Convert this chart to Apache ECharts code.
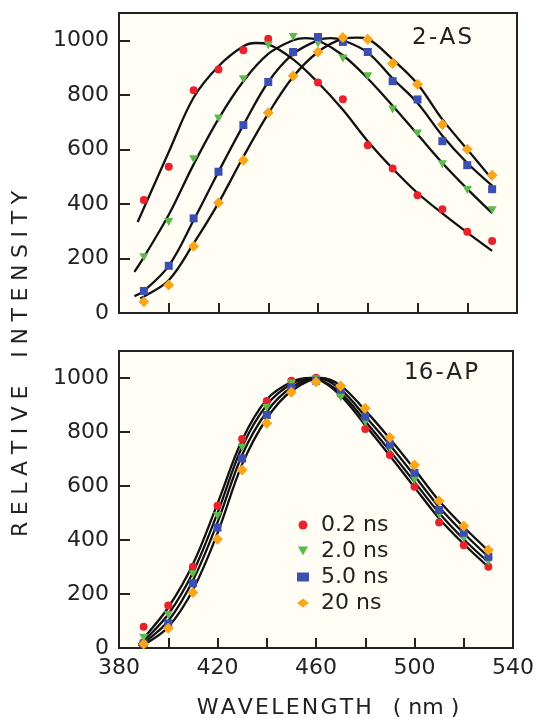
<!DOCTYPE html>
<html><head><meta charset="utf-8">
<script src="https://cdn.jsdelivr.net/npm/echarts@6.0.0/dist/echarts.min.js"></script>
<style>html,body{margin:0;padding:0;background:#fff}#c{width:537px;height:719px}</style>
</head><body><div id="c"></div>
<script>
// ---------- data ----------
const wavelengths = [390,400,410,420,430,440,450,460,470,480,490,500,510,520,530];
const seriesNames = ['0.2 ns','2.0 ns','5.0 ns','20 ns'];
const xTicks = [380,420,460,500,540];
const yTicks = [0,200,400,600,800,1000];

// top panel (2-AS) measured points
const as02 = [414,536,817,893,963,1006,955,845,784,615,530,432,380,298,264];
const as2  = [204,334,564,713,857,982,1012,988,933,868,746,658,545,451,377];
const as5  = [81,173,347,518,689,847,957,1012,994,957,850,783,630,542,454];
const as20 = [41,103,245,404,560,734,869,957,1010,1004,915,839,691,600,505];

// top panel fitted curves [wavelength, intensity]
const asFit02 = [[387.5,334],[390,385],[400,590],[410,790],[420,905],[430,978],[435,990],[440,985],[450,930],[460,845],[470,745],[480,630],[490,530],[500,440],[510,365],[520,295],[530,228]];
const asFit2  = [[386.2,151],[390,205],[400,360],[410,545],[420,712],[430,850],[440,950],[450,1000],[455,1008],[460,1000],[470,945],[480,860],[490,760],[500,655],[510,550],[520,455],[530,366]];
const asFit5  = [[386.2,62],[390,81],[400,173],[410,340],[420,518],[430,689],[440,847],[450,950],[460,1000],[465,1008],[470,1000],[480,955],[490,860],[500,770],[510,650],[520,550],[530,467]];
const asFit20 = [[388.5,54],[390,60],[400,120],[410,255],[420,404],[430,573],[440,731],[450,866],[460,957],[470,1005],[476,1010],[480,1005],[490,930],[500,840],[510,710],[520,600],[530,490]];

// bottom panel (16-AP) measured points
const ap02 = [79,157,301,527,774,915,990,1001,940,811,715,597,465,381,301];
const ap2  = [38,122,273,489,743,890,980,995,928,836,740,622,493,406,320];
const ap5  = [17,91,240,446,702,863,965,990,958,857,754,649,511,427,338];
const ap20 = [15,73,206,403,659,832,947,985,970,888,780,678,544,452,363];

// bottom panel fitted curves
const apFit02 = [[388,12],[390,35],[400,150],[410,310],[420,535],[430,770],[440,920],[450,985],[458,1000],[460,998],[470,935],[480,825],[490,712],[500,595],[510,480],[520,385],[530,300]];
const apFit2  = [[388,8],[390,25],[400,125],[410,280],[420,500],[430,745],[440,900],[450,978],[459,1000],[460,999],[470,945],[480,840],[490,730],[500,615],[510,500],[520,403],[530,318]];
const apFit5  = [[388.5,5],[390,17],[400,100],[410,250],[420,465],[430,715],[440,875],[450,965],[461,1000],[470,958],[480,858],[490,752],[500,638],[510,522],[520,425],[530,338]];
const apFit20 = [[389,5],[390,10],[400,78],[410,215],[420,425],[430,680],[440,850],[450,952],[462,1000],[470,972],[480,880],[490,775],[500,662],[510,545],[520,448],[530,360]];

// ---------- styling ----------
const FONT = 'DejaVu Sans';
const INK = '#222';
const colors = ['#e8232b','#5db94b','#3b4fb3','#f9a61c'];
const symbols = ['circle','path://M0,0L10,0L5,9Z','rect','diamond'];
const symSize = [8,[9,8],8,11];

const pair = arr => arr.map((v,i)=>[wavelengths[i], v]);

function xAxis(gi, showLabels){
  return {type:'value', gridIndex:gi, min:380, max:540, interval:20,
    axisLine:{show:true, onZero:false, lineStyle:{color:INK,width:2}},
    axisTick:{show:true, inside:true, length:10, lineStyle:{color:INK,width:2}},
    splitLine:{show:false},
    axisLabel:{show:showLabels, margin:9, fontSize:22, fontFamily:FONT, color:INK,
      formatter: v => (xTicks.indexOf(v) >= 0 ? String(v) : '')}};
}
function yAxis(gi){
  return {type:'value', gridIndex:gi, min:0, max:1100, interval:200,
    axisLine:{show:true, lineStyle:{color:INK,width:2}},
    axisTick:{show:true, inside:true, length:11, lineStyle:{color:INK,width:2}},
    splitLine:{show:false},
    axisLabel:{margin:10, fontSize:22, fontFamily:FONT, color:INK,
      formatter: v => (yTicks.indexOf(v) >= 0 ? String(v) : '')}};
}

const series = [];
const fitsTop = [asFit02, asFit2, asFit5, asFit20];
const fitsBot = [apFit02, apFit2, apFit5, apFit20];
const ptsTop = [as02, as2, as5, as20];
const ptsBot = [ap02, ap2, ap5, ap20];
[0,1].forEach(gi => {
  const fits = gi === 0 ? fitsTop : fitsBot;
  fits.forEach((f,k) => series.push({type:'line', xAxisIndex:gi, yAxisIndex:gi, data:f,
    smooth:0.35, symbol:'none', silent:true, z:2, lineStyle:{color:'#111', width:2.3}}));
});
[0,1].forEach(gi => {
  const pts = gi === 0 ? ptsTop : ptsBot;
  pts.forEach((p,k) => series.push({type:'scatter', name:seriesNames[k], xAxisIndex:gi, yAxisIndex:gi,
    data:pair(p), symbol:symbols[k], symbolSize:symSize[k], z:3+k,
    itemStyle:{color:colors[k], opacity:1}}));
});

const chart = echarts.init(document.getElementById('c'), null, {renderer:'canvas'});
chart.setOption({
  animation:false,
  backgroundColor:'#ffffff',
  grid:[
    {left:119, top:13, width:398, height:300, show:true, backgroundColor:'#fffdf4', borderColor:INK, borderWidth:2},
    {left:119, top:351, width:398, height:297, show:true, backgroundColor:'#fffdf4', borderColor:INK, borderWidth:2}
  ],
  xAxis:[xAxis(0,false), xAxis(1,true)],
  yAxis:[yAxis(0), yAxis(1)],
  legend:{data:seriesNames, orient:'vertical', left:297, top:514, itemWidth:12, itemHeight:9, itemGap:4,
    padding:0,
    formatter: n => ' ' + n,
    textStyle:{fontSize:22, fontFamily:FONT, color:INK}},
  graphic:[
    {type:'text', left:412, top:27, style:{text:'2\u200A-\u200AA\u200AS', font:'23px "DejaVu Sans"', fill:INK}},
    {type:'text', left:404, top:362, style:{text:'16\u200A-\u200AA\u200AP', font:'23px "DejaVu Sans"', fill:INK}},
    {type:'text', x:21, y:364, rotation:Math.PI/2,
      style:{text:'R\u2009\u200AE\u2009\u200AL\u2009\u200AA\u2009\u200AT\u2009\u200AI\u2009\u200AV\u2009\u200AE    I\u2009\u200AN\u2009\u200AT\u2009\u200AE\u2009\u200AN\u2009\u200AS\u2009\u200AI\u2009\u200AT\u2009\u200AY', font:'22px "DejaVu Sans"', fill:INK, align:'center', verticalAlign:'middle'}},
    {type:'text', x:328, y:708, style:{text:'W\u200AA\u200AV\u200AE\u200AL\u200AE\u200AN\u200AG\u200AT\u200AH   ( nm )', font:'22px "DejaVu Sans"', fill:INK, align:'center', verticalAlign:'middle'}}
  ],
  series: series
});
</script></body></html>
